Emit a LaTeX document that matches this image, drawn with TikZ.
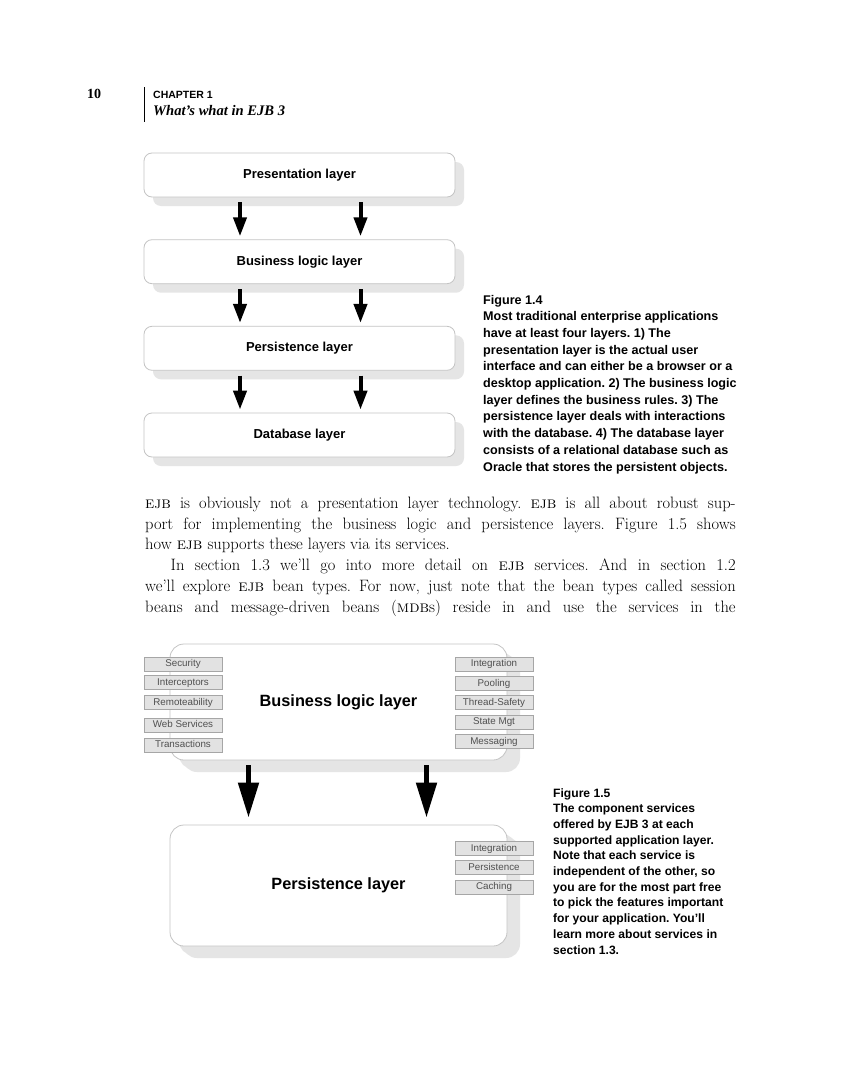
\documentclass[tikz,border=0pt]{standalone}
\usepackage{fontspec}
\setsansfont{Liberation Sans}
\newfontfamily\timesf{Liberation Serif}
\usetikzlibrary{arrows.meta,shadows,calc}
\newcommand{\ejb}{\textsc{ejb}}
\newcommand{\mdbsc}{\textsc{mdb}}
\definecolor{boxline}{HTML}{C4C4C4}
\definecolor{svcfill}{HTML}{E2E2E2}
\definecolor{svcline}{HTML}{A6A6A6}
\definecolor{svctext}{HTML}{505050}
\tikzset{
  layerbox/.style={draw=boxline, line width=0.8pt, fill=white, rounded corners=8pt,
    drop shadow={shadow xshift=9pt, shadow yshift=-9pt, fill=black!10, opacity=1},
    font=\sffamily\bfseries\fontsize{13}{13}\selectfont, inner sep=0pt},
  bigbox/.style={layerbox, rounded corners=14pt,
    drop shadow={shadow xshift=13pt, shadow yshift=-12pt, fill=black!10, opacity=1},
    font=\sffamily\bfseries\fontsize{16.3}{16.3}\selectfont},
  svc/.style={draw=svcline, line width=0.7pt, fill=svcfill, minimum width=78pt,
    minimum height=14pt, inner sep=0pt, text=svctext, text height=7.2pt, text depth=2pt,
    font=\sffamily\fontsize{9.8}{9.8}\selectfont},
  smallarr/.style={line width=4pt, -{Triangle[width=13pt,length=19pt]}},
  bigarr/.style={line width=5pt, -{Triangle[width=20pt,length=35pt]}},
  bodyline/.style={anchor=base west, inner sep=0pt, font=\frenchspacing\fontsize{16.5}{16.5}\selectfont},
  capA/.style={anchor=base west, inner sep=0pt, font=\sffamily\bfseries\fontsize{12.6}{12.6}\selectfont},
  capB/.style={anchor=base west, inner sep=0pt, font=\sffamily\bfseries\fontsize{12.1}{12.1}\selectfont},
}
\begin{document}
\begin{tikzpicture}[x=1pt,y=-1pt]
\useasboundingbox (0,0) rectangle (849,1065);
\fill[white] (0,0) rectangle (849,1065);

% running head
\node[anchor=base west, inner sep=0pt, font=\timesf\bfseries\fontsize{14}{14}\selectfont] (pgnum) at (87,98) {10};
\draw[line width=0.8pt] (144,87) -- (144,122);
\node[anchor=base west, inner sep=0pt, font=\sffamily\bfseries\fontsize{10.5}{10.5}\selectfont] (chap) at (153,98) {CHAPTER 1};
\node[anchor=base west, inner sep=0pt, font=\timesf\bfseries\itshape\fontsize{14.6}{14.6}\selectfont] (chtitle) at (153,115.5) {What’s what in EJB 3};

% Figure 1.4
\node[layerbox, minimum width=311pt, minimum height=44pt] (pres) at (299.5,175) {Presentation layer};
\node[layerbox, minimum width=311pt, minimum height=44pt] (biz) at (299.5,261.7) {Business logic layer};
\node[layerbox, minimum width=311pt, minimum height=44pt] (pers) at (299.5,348.3) {Persistence layer};
\node[layerbox, minimum width=311pt, minimum height=44pt] (db) at (299.5,435) {Database layer};
\foreach \a/\b in {pres/biz, biz/pers, pers/db}{
  \draw[smallarr] ([xshift=-59.5pt,yshift=-5pt]\a.south) -- ([xshift=-59.5pt,yshift=3pt]\b.north);
  \draw[smallarr] ([xshift=61pt,yshift=-5pt]\a.south) -- ([xshift=61pt,yshift=3pt]\b.north);
}
\foreach \t [count=\i from 0] in {Figure 1.4,Most traditional enterprise applications,have at least four layers. 1) The,presentation layer is the actual user,interface and can either be a browser or a,desktop application. 2) The business logic,layer defines the business rules. 3) The,persistence layer deals with interactions,with the database. 4) The database layer,consists of a relational database such as,Oracle that stores the persistent objects.}{
  \node[capA] (capa\i) at (483,304+16.7*\i) {\frenchspacing\t};
}

% body text
\node[bodyline] (l1) at (145,508.5) {\makebox[590.5pt][s]{\ejb{} is obviously not a presentation layer technology. \ejb{} is all about robust sup-}};
\node[bodyline] (l2) at (145,529.2) {\makebox[590.5pt][s]{port for implementing the business logic and persistence layers. Figure 1.5 shows}};
\node[bodyline] (l3) at (145,549.9) {how \ejb{} supports these layers via its services.};
\node[bodyline] (l4) at (170.5,570.6) {\makebox[565pt][s]{In section 1.3 we’ll go into more detail on \ejb{} services. And in section 1.2}};
\node[bodyline] (l5) at (145,591.3) {\makebox[590.5pt][s]{we’ll explore \ejb{} bean types. For now, just note that the bean types called session}};
\node[bodyline] (l6) at (145,612) {\makebox[590.5pt][s]{beans and message-driven beans (\mdbsc{}s) reside in and use the services in the}};

% Figure 1.5
\node[bigbox, minimum width=337pt, minimum height=116pt] (bl) at (338.5,702) {Business logic layer};
\node[bigbox, minimum width=337pt, minimum height=121pt] (pl) at (338.5,885.5) {Persistence layer};
\draw[bigarr] ([xshift=-90pt,yshift=-5pt]bl.south) -- ([xshift=-90pt,yshift=7pt]pl.north);
\draw[bigarr] ([xshift=88pt,yshift=-5pt]bl.south) -- ([xshift=88pt,yshift=7pt]pl.north);

\node[svc] (s1) at (183,664) {Security};
\node[svc] (s2) at (183,682.5) {Interceptors};
\node[svc] (s3) at (183,702.5) {Remoteability};
\node[svc] (s4) at (183,725) {Web Services};
\node[svc] (s5) at (183,745) {Transactions};
\node[svc] (r1) at (494,664) {Integration};
\node[svc] (r2) at (494,683.5) {Pooling};
\node[svc] (r3) at (494,702.5) {Thread-Safety};
\node[svc] (r4) at (494,722) {State Mgt};
\node[svc] (r5) at (494,741.5) {Messaging};
\node[svc] (p1) at (494,848.5) {Integration};
\node[svc] (p2) at (494,867.5) {Persistence};
\node[svc] (p3) at (494,887) {Caching};

\foreach \t [count=\i from 0] in {Figure 1.5,The component services,offered by EJB 3 at each,supported application layer.,Note that each service is,{independent of the other, so},you are for the most part free,to pick the features important,for your application. You’ll,learn more about services in,section 1.3.}{
  \node[capB] (capb\i) at (553,797+15.7*\i) {\frenchspacing\t};
}
\end{tikzpicture}
\end{document}
